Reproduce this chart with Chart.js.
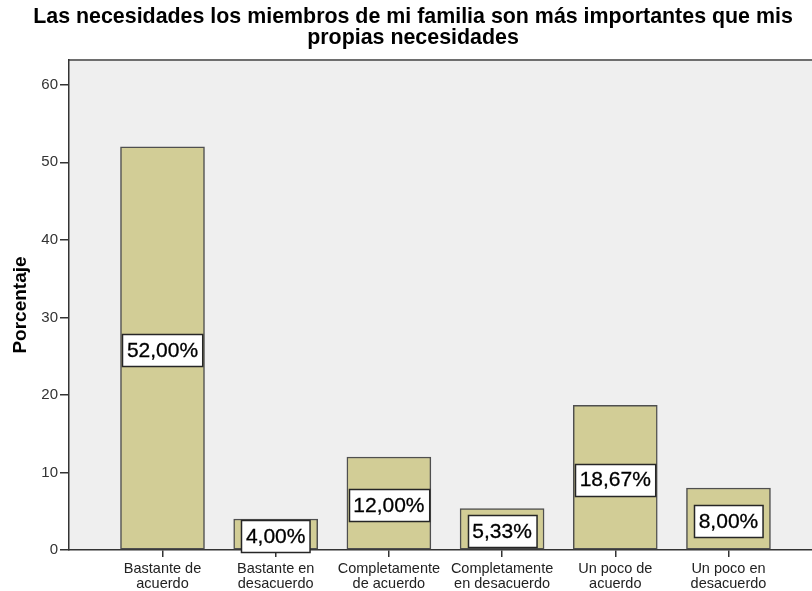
<!DOCTYPE html>
<html>
<head>
<meta charset="utf-8">
<script src="https://cdn.jsdelivr.net/npm/chart.js@4"></script>
<style>
  html, body { margin: 0; padding: 0; background: #ffffff; }
  #wrap { width: 812px; height: 591px; }
</style>
</head>
<body>
<div id="wrap"><canvas id="c" width="812" height="591"></canvas></div>
<script>
const titleLines = ['Las necesidades los miembros de mi familia son más importantes que mis', 'propias necesidades'];
const yAxisTitle = 'Porcentaje';
const categories = [
  ['Bastante de', 'acuerdo'],
  ['Bastante en', 'desacuerdo'],
  ['Completamente', 'de acuerdo'],
  ['Completamente', 'en desacuerdo'],
  ['Un poco de', 'acuerdo'],
  ['Un poco en', 'desacuerdo']
];
const values = [52.00, 4.00, 12.00, 5.33, 18.67, 8.00];
const valueLabels = ['52,00%', '4,00%', '12,00%', '5,33%', '18,67%', '8,00%'];
const yTicks = [0, 10, 20, 30, 40, 50, 60];

const FONT = "'Liberation Sans', Arial, sans-serif";

const plotBg = {
  id: 'plotBg',
  beforeDraw(chart) {
    const { ctx, chartArea: a } = chart;
    ctx.save();
    ctx.fillStyle = '#efefef';
    ctx.fillRect(a.left, a.top, a.right - a.left, a.bottom - a.top);
    ctx.strokeStyle = '#6e6e6e';
    ctx.lineWidth = 2;
    ctx.beginPath();
    ctx.moveTo(a.left - 1, a.top);
    ctx.lineTo(a.right, a.top);
    ctx.stroke();
    // title
    ctx.fillStyle = '#000000';
    ctx.font = 'bold 21.4px ' + FONT;
    ctx.textAlign = 'center';
    ctx.textBaseline = 'middle';
    titleLines.forEach((t, i) => ctx.fillText(t, 413, 17.5 + i * 21));
    ctx.restore();
  }
};

const boxLabels = {
  id: 'boxLabels',
  afterDraw(chart) {
    const { ctx } = chart;
    const meta = chart.getDatasetMeta(0);
    const ys = chart.scales.y;
    ctx.save();
    ctx.font = '21px ' + FONT;
    ctx.textAlign = 'center';
    ctx.textBaseline = 'middle';
    meta.data.forEach((el, i) => {
      const txt = valueLabels[i];
      const yc = ys.getPixelForValue(values[i] / 2) + 2;
      const w = ctx.measureText(txt).width + 9;
      const h = 32;
      const x0 = Math.round(el.x - w / 2) + 0.5;
      const y0 = Math.round(yc - h / 2) + 0.5;
      ctx.fillStyle = '#ffffff';
      ctx.fillRect(x0, y0, w, h);
      ctx.strokeStyle = '#262626';
      ctx.lineWidth = 1.5;
      ctx.strokeRect(x0, y0, w, h);
      ctx.fillStyle = '#000000';
      ctx.strokeStyle = '#000000';
      ctx.lineWidth = 0.3;
      ctx.fillText(txt, el.x, yc + 1);
      ctx.strokeText(txt, el.x, yc + 1);
    });
    ctx.restore();
  }
};

new Chart(document.getElementById('c'), {
  type: 'bar',
  data: {
    datasets: [{
      data: values.map((v, i) => ({ x: i, y: v })),
      backgroundColor: '#d2cd96',
      borderColor: '#4f4f4f',
      borderWidth: 1.5,
      borderSkipped: false,
      barThickness: 84
    }]
  },
  options: {
    responsive: false,
    animation: false,
    devicePixelRatio: 1,
    layout: { padding: { top: 60, left: 0, right: 0, bottom: 0 } },
    plugins: {
      legend: { display: false },
      tooltip: { enabled: false },
      title: { display: false }
    },
    scales: {
      x: {
        type: 'linear',
        offset: false,
        min: -0.826,
        max: 5.738,
        afterBuildTicks(scale) { scale.ticks = categories.map((c, i) => ({ value: i })); },
        afterFit(scale) { scale.height = 41; },
        ticks: {
          autoSkip: false,
          maxRotation: 0,
          minRotation: 0,
          padding: 4,
          color: '#222222',
          font: { family: FONT, size: 14.5, lineHeight: '15px' },
          callback(v) { return categories[v] || ''; }
        },
        grid: { offset: false, drawOnChartArea: false, drawTicks: true, tickLength: 7, color: '#333333', lineWidth: 1.5 },
        border: { display: true, color: '#333333', width: 1.5 }
      },
      y: {
        min: 0,
        max: 63.2,
        afterBuildTicks(scale) { scale.ticks = yTicks.map(v => ({ value: v })); },
        afterFit(scale) { scale.width = 69; },
        ticks: {
          padding: 2,
          color: '#333333',
          font: { family: FONT, size: 15 }
        },
        grid: { drawOnChartArea: false, drawTicks: true, tickLength: 9, color: '#333333', lineWidth: 1.5 },
        border: { display: true, color: '#333333', width: 1.5 },
        title: {
          display: true,
          text: yAxisTitle,
          color: '#000000',
          font: { family: FONT, size: 19, weight: 'bold', lineHeight: '20px' },
          padding: { top: 11, bottom: 0 }
        }
      }
    }
  },
  plugins: [plotBg, boxLabels]
});
</script>
</body>
</html>
